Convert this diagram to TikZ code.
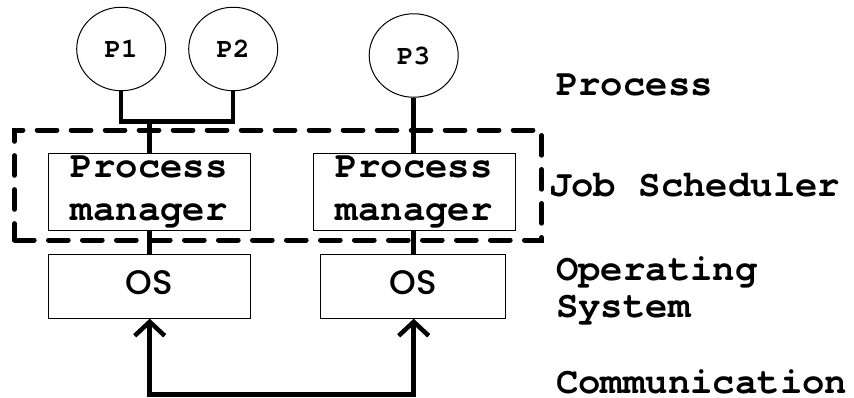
\documentclass[tikz,border=0pt]{standalone}
\usepackage{fontspec}
\setmonofont{texgyrecursor}[Extension=.otf, UprightFont=*-regular, BoldFont=*-bold]
\newfontfamily\osfont{Poppins}[UprightFont=* Medium]
\usetikzlibrary{arrows.meta,shapes.geometric}

\tikzset{
  big/.style={font=\ttfamily\bfseries\fontsize{37.3}{43.3}\selectfont},
  procnode/.style={ellipse, draw, line width=1pt, minimum width=89pt, minimum height=83.5pt, inner sep=0pt,
    font=\ttfamily\bfseries\fontsize{27.5}{30}\selectfont},
  pmbox/.style={draw, line width=1pt, minimum width=202pt, minimum height=76.7pt, inner sep=0pt, align=center, big},
  osbox/.style={draw, line width=1pt, minimum height=64pt, inner sep=0pt, text depth=8pt,
    font=\osfont\fontsize{34}{36}\selectfont},
  groupbox/.style={draw, line width=5pt, line cap=round, dash pattern=on 19.7pt off 14.3pt,
    minimum width=527.2pt, minimum height=110pt, inner sep=0pt},
  conn/.style={line width=4.5pt},
  link/.style={conn, >={Straight Barb[length=14pt, width=30pt, line width=4.5pt]}, <->},
  layer/.style={anchor=west, inner sep=0pt, big},
}

\begin{document}
\begin{tikzpicture}[x=1pt, y=-1pt]
\useasboundingbox (0,0) rectangle (854,397);

% processes
\node[procnode] (p1) at (121.2,49) {P1};
\node[procnode] (p2) at (233.2,49) {P2};
\node[procnode] (p3) at (413.7,55.5) {P3};

% job scheduler frame
\node[groupbox] (grp) at (278.1,185) {};

% process managers
\node[pmbox] (pm1) at (149.3,191.7) {Process\\manager};
\node[pmbox] (pm2) at (414.2,191.7) {Process\\manager};

% operating systems
\node[osbox, minimum width=202.5pt] (os1) at (149.3,286.2) {OS};
\node[osbox, minimum width=185pt] (os2) at (413.2,286.2) {OS};

% wiring
\coordinate (j) at (149.7,121.7);
\draw[conn] (p1.south) -- (p1.south |- j) -- (p2.south |- j) -- (p2.south);
\draw[conn] (j) -- (pm1.north -| j);
\draw[conn] (p3.south) -- (pm2.north -| p3.south);
\draw[conn] (pm1.south -| j) -- (os1.north -| j);
\draw[conn] (pm2.south -| p3.south) -- (os2.north -| p3.south);

\coordinate (bot) at (149.7,394.5);
\draw[link] (os1.south -| j) -- (bot) -- (bot -| p3.south) -- (os2.south -| p3.south);

% layer labels
\node[layer] (lproc) at (556,85) {Process};
\node[layer] (ljob) at (549,185) {Job Scheduler};
\node[layer] (los1) at (556,272) {Operating};
\node[layer] (los2) at (556,310) {System};
\node[layer] (lcom) at (556,381.5) {Communication};
\end{tikzpicture}
\end{document}
